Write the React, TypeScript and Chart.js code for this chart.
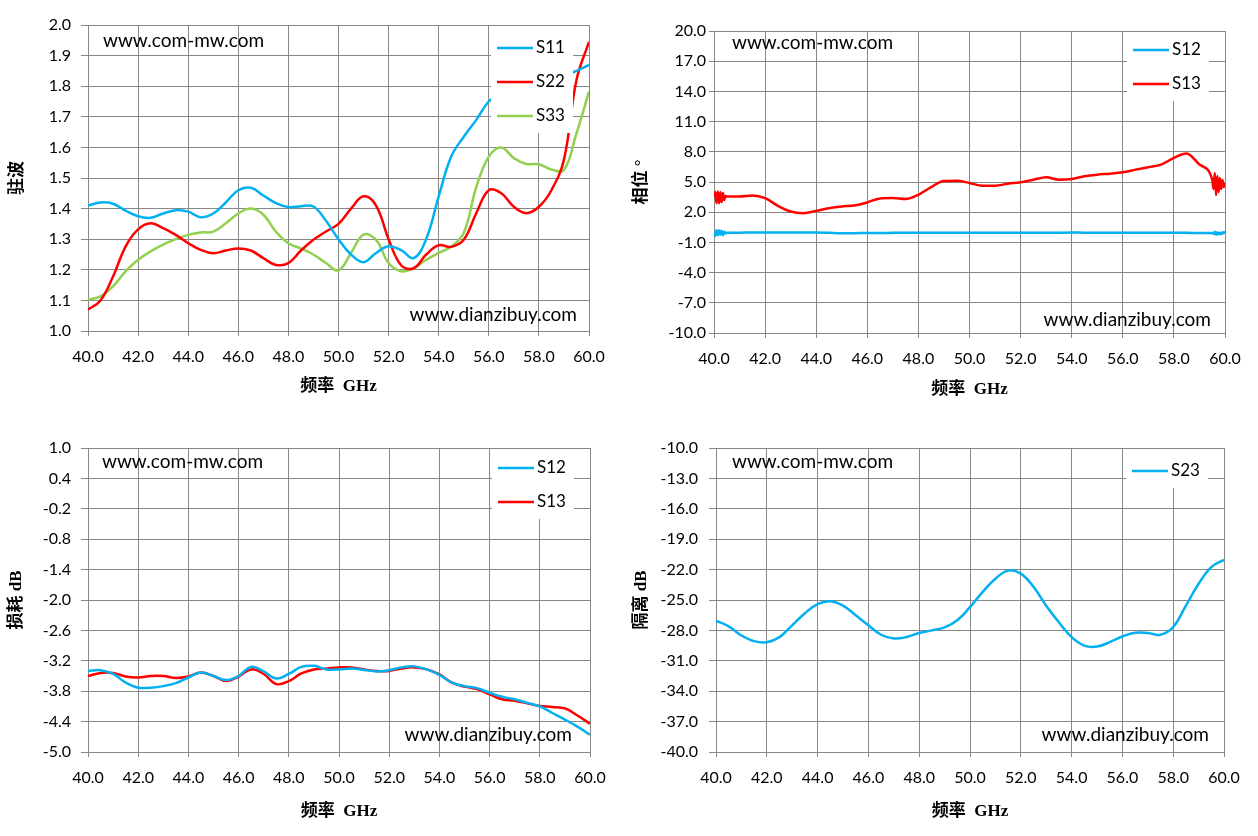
import { useEffect, useRef } from 'react';
import { Chart, registerables } from 'chart.js';
Chart.register(...registerables);

// ---- data ----
const freq = [
  40.0, 40.5, 41.0, 41.5, 42.0, 42.5, 43.0, 43.5, 44.0, 44.5,
  45.0, 45.5, 46.0, 46.5, 47.0, 47.5, 48.0, 48.5, 49.0, 49.5,
  50.0, 50.5, 51.0, 51.5, 52.0, 52.5, 53.0, 53.5, 54.0, 54.5,
  55.0, 55.5, 56.0, 56.5, 57.0, 57.5, 58.0, 58.5, 59.0, 59.5, 60.0,
];

// VSWR
const vswrS11 = [
  1.41, 1.42, 1.416, 1.393, 1.375, 1.37, 1.384, 1.395, 1.39, 1.372,
  1.384, 1.42, 1.46, 1.468, 1.443, 1.418, 1.405, 1.408, 1.407, 1.36,
  1.30, 1.25, 1.225, 1.255, 1.277, 1.264, 1.238, 1.30, 1.44, 1.57,
  1.635, 1.69, 1.75, 1.775, 1.795, 1.81, 1.82, 1.83, 1.835, 1.85, 1.87,
];
const vswrS22 = [
  1.07, 1.10, 1.178, 1.276, 1.332, 1.352, 1.336, 1.314, 1.287, 1.265,
  1.254, 1.263, 1.27, 1.263, 1.238, 1.216, 1.222, 1.263, 1.298, 1.325,
  1.35, 1.40, 1.44, 1.41, 1.30, 1.215, 1.205, 1.25, 1.28, 1.275,
  1.298, 1.385, 1.46, 1.45, 1.406, 1.385, 1.406, 1.46, 1.56, 1.82, 1.945,
];
const vswrS33 = [
  1.102, 1.113, 1.146, 1.195, 1.233, 1.26, 1.282, 1.30, 1.314, 1.322,
  1.325, 1.352, 1.384, 1.40, 1.38, 1.325, 1.287, 1.27, 1.25, 1.222,
  1.198, 1.255, 1.315, 1.298, 1.222, 1.195, 1.205, 1.233, 1.255, 1.276,
  1.32, 1.47, 1.57, 1.60, 1.565, 1.546, 1.545, 1.528, 1.526, 1.646, 1.782,
];

// phase (denser sampling at the noisy band edges)
const phaseFreq = [
  40.0, 40.05, 40.1, 40.15, 40.2, 40.25, 40.3, 40.35, 40.4, 40.45,
  40.5, 41.0, 41.5, 42.0, 42.5, 43.0, 43.5, 44.0, 44.5, 45.0,
  45.5, 46.0, 46.5, 47.0, 47.5, 48.0, 48.5, 49.0, 49.5, 50.0,
  50.5, 51.0, 51.5, 52.0, 52.5, 53.0, 53.5, 54.0, 54.5, 55.0,
  55.5, 56.0, 56.5, 57.0, 57.5, 58.0, 58.5, 59.0, 59.5,
  59.55, 59.6, 59.65, 59.7, 59.75, 59.8, 59.85, 59.9, 59.95, 60.0,
];
const phaseS12 = [
  0.0, -0.35, 0.2, -0.3, 0.2, -0.25, 0.15, -0.3, 0.05, -0.1,
  -0.05, -0.03, -0.02, -0.02, -0.02, -0.01, -0.01, -0.02, -0.05, -0.08,
  -0.08, -0.06, -0.07, -0.04, -0.03, -0.03, -0.04, -0.04, -0.03, -0.03,
  -0.03, -0.04, -0.04, -0.04, -0.05, -0.05, -0.04, -0.02, -0.03, -0.03,
  -0.03, -0.03, -0.04, -0.05, -0.05, -0.05, -0.05, -0.06, -0.06,
  -0.15, 0.05, -0.25, 0.0, -0.2, -0.05, -0.2, 0.0, -0.1, 0.1,
];
const phaseS13 = [
  3.5, 4.0, 2.9, 4.05, 2.9, 4.0, 3.0, 3.9, 3.2, 3.6,
  3.57, 3.57, 3.67, 3.4, 2.63, 2.07, 1.9, 2.13, 2.4, 2.57,
  2.67, 2.97, 3.37, 3.4, 3.3, 3.73, 4.5, 5.1, 5.13, 4.9,
  4.63, 4.63, 4.83, 4.97, 5.23, 5.47, 5.23, 5.3, 5.57, 5.73,
  5.83, 5.97, 6.23, 6.47, 6.73, 7.4, 7.83, 6.73, 5.23,
  4.3, 5.9, 3.7, 5.6, 4.0, 5.4, 4.3, 5.2, 4.5, 4.9,
];

// insertion loss (dB)
const lossS12 = [
  -3.40, -3.385, -3.46, -3.63, -3.73, -3.73, -3.70, -3.64, -3.53, -3.43,
  -3.50, -3.58, -3.50, -3.32, -3.41, -3.55, -3.46, -3.32, -3.30, -3.37,
  -3.37, -3.35, -3.38, -3.41, -3.385, -3.33, -3.31, -3.37, -3.48, -3.63,
  -3.70, -3.74, -3.83, -3.91, -3.96, -4.03, -4.10, -4.23, -4.36, -4.50, -4.66,
];
const lossS13 = [
  -3.50, -3.44, -3.44, -3.51, -3.53, -3.50, -3.50, -3.54, -3.51, -3.43,
  -3.50, -3.60, -3.51, -3.37, -3.46, -3.66, -3.60, -3.45, -3.37, -3.35,
  -3.33, -3.33, -3.37, -3.40, -3.40, -3.35, -3.33, -3.37, -3.47, -3.63,
  -3.71, -3.76, -3.86, -3.96, -3.99, -4.04, -4.09, -4.11, -4.14, -4.28, -4.44,
];

// isolation (dB)
const isoS23 = [
  -27.05, -27.6, -28.5, -29.06, -29.16, -28.66, -27.5, -26.3, -25.4, -25.13,
  -25.56, -26.5, -27.5, -28.43, -28.8, -28.66, -28.25, -28.0, -27.7, -27.0,
  -25.7, -24.2, -22.9, -22.1, -22.4, -23.7, -25.56, -27.2, -28.66, -29.5,
  -29.6, -29.16, -28.6, -28.23, -28.25, -28.43, -27.66, -25.56, -23.4, -21.75, -21.03,
];

// ---- styling ----
const BLUE = '#00B0F0';
const RED = '#FF0000';
const GREEN = '#92D050';
const GRID = '#878787';
const W = 629;
const H = 418;
const SANS = 'Lato';
const TITLE_FONT = "'Liberation Serif', 'Noto Sans CJK SC'";
const MARK_TOP = 'www.com-mw.com';
const MARK_BOTTOM = 'www.dianzibuy.com';

const overlay = {
  id: 'overlay',
  afterDatasetsDraw(chart: any, _a: any, o: any) {
    const { ctx, chartArea: a } = chart;
    ctx.save();
    ctx.fillStyle = '#000';
    ctx.font = `19px ${SANS}`;
    ctx.textBaseline = 'middle';
    ctx.textAlign = 'left';
    ctx.fillText(MARK_TOP, a.left + o.top[0], a.top + o.top[1]);
    ctx.textAlign = 'right';
    ctx.fillText(MARK_BOTTOM, a.right - o.bot[0], a.bottom - o.bot[1]);

    // legend box on top of the lines
    const ds = chart.data.datasets;
    const right = a.right - 16;
    const left = right - 82;
    const row0 = a.top + o.legendTop;
    const bottom = row0 + (ds.length - 1) * 34 + 17;
    ctx.fillStyle = '#fff';
    ctx.fillRect(left, a.top + 1, right - left, bottom - a.top - 1);
    ds.forEach((d: any, i: number) => {
      const y = row0 + i * 34;
      ctx.strokeStyle = d.borderColor;
      ctx.lineWidth = 2.5;
      ctx.beginPath();
      ctx.moveTo(left + 6, y);
      ctx.lineTo(left + 42, y);
      ctx.stroke();
      ctx.fillStyle = '#000';
      ctx.textAlign = 'left';
      ctx.font = `17px ${SANS}`;
      ctx.fillText(d.label, left + 45, y);
    });
    ctx.restore();
  },
};

type Series = { label: string; color: string; xs: number[]; ys: number[] };
type PanelProps = {
  left: number; top: number;
  box: { l: number; t: number; r: number; b: number };
  yMin: number; yMax: number; yStep: number;
  yTitle: string; yTitleX: number; yTick: number; yPad: number;
  xTitleY: number;
  legendTop: number;
  markTop: [number, number]; markBot: [number, number];
  noisy?: boolean;
  series: Series[];
};

function Panel(p: PanelProps) {
  const ref = useRef<HTMLCanvasElement>(null);

  useEffect(() => {
    const tickFont = { family: SANS, size: 16 };
    const titleFont = { family: TITLE_FONT, size: 17, weight: 'bold' as const, lineHeight: 1.2 };
    const chart = new Chart(ref.current!, {
      type: 'line',
      data: {
        datasets: p.series.map(s => ({
          label: s.label,
          data: s.xs.map((x, i) => ({ x, y: s.ys[i] })),
          borderColor: s.color,
          backgroundColor: s.color,
          borderWidth: 2.5,
          pointRadius: 0,
          fill: false,
          tension: 0.4,
          cubicInterpolationMode: p.noisy ? 'monotone' : 'default',
        })),
      },
      plugins: [overlay],
      options: {
        animation: false,
        responsive: true,
        maintainAspectRatio: false,
        layout: { padding: { left: 0, top: p.box.t, right: W - p.box.r, bottom: 0 } },
        plugins: {
          legend: { display: false },
          tooltip: { enabled: false },
          overlay: { top: p.markTop, bot: p.markBot, legendTop: p.legendTop },
        } as any,
        scales: {
          x: {
            type: 'linear',
            min: 40,
            max: 60,
            afterFit: (s: any) => { s.height = H - p.box.b; },
            ticks: {
              stepSize: 2,
              autoSkip: false,
              maxRotation: 0,
              padding: 11,
              color: '#000',
              font: tickFont,
              callback: (v: any) => Number(v).toFixed(1),
            },
            grid: { color: GRID, lineWidth: 1, tickLength: 5, drawTicks: true },
            border: { color: GRID, width: 1 },
            title: {
              display: true,
              text: '频率  GHz',
              color: '#000',
              font: titleFont,
              padding: { top: 0, bottom: H - p.xTitleY - 10.2 },
            },
          },
          y: {
            type: 'linear',
            min: p.yMin,
            max: p.yMax,
            afterFit: (s: any) => { s.width = p.box.l; },
            ticks: {
              stepSize: p.yStep,
              autoSkip: false,
              padding: p.yPad,
              color: '#000',
              font: tickFont,
              callback: (v: any) => Number(v).toFixed(1),
            },
            grid: { color: GRID, lineWidth: 1, tickLength: p.yTick, drawTicks: true },
            border: { color: GRID, width: 1 },
            title: {
              display: true,
              text: p.yTitle,
              color: '#000',
              font: titleFont,
              padding: { top: p.yTitleX - 10.2, bottom: 0 },
            },
          },
        },
      } as any,
    });
    return () => chart.destroy();
  }, []);

  return (
    <div style={{ position: 'absolute', left: p.left, top: p.top, width: W, height: H }}>
      <canvas ref={ref} />
    </div>
  );
}

export default function App() {
  return (
    <div style={{ position: 'fixed', left: 0, top: 0, width: 1258, height: 836, background: '#fff' }}>
      <Panel
        left={0} top={0}
        box={{ l: 88, t: 25, r: 589, b: 331 }}
        yMin={1.0} yMax={2.0} yStep={0.1}
        yTitle="驻波" yTitleX={18} yTick={7} yPad={10}
        xTitleY={387} legendTop={23}
        markTop={[15, 16]} markBot={[12, 16]}
        series={[
          { label: 'S11', color: BLUE, xs: freq, ys: vswrS11 },
          { label: 'S22', color: RED, xs: freq, ys: vswrS22 },
          { label: 'S33', color: GREEN, xs: freq, ys: vswrS33 },
        ]}
      />
      <Panel
        left={629} top={0}
        box={{ l: 85, t: 31, r: 596, b: 333 }}
        yMin={-10} yMax={20} yStep={3}
        yTitle="相位 °" yTitleX={13} yTick={5} yPad={3}
        xTitleY={390} legendTop={19}
        markTop={[18, 12]} markBot={[14, 13]}
        noisy
        series={[
          { label: 'S12', color: BLUE, xs: phaseFreq, ys: phaseS12 },
          { label: 'S13', color: RED, xs: phaseFreq, ys: phaseS13 },
        ]}
      />
      <Panel
        left={0} top={418}
        box={{ l: 88, t: 30, r: 590, b: 334 }}
        yMin={-5.0} yMax={1.0} yStep={0.6}
        yTitle="损耗 dB" yTitleX={17} yTick={7} yPad={10}
        xTitleY={394} legendTop={20}
        markTop={[14, 14]} markBot={[18, 17]}
        series={[
          { label: 'S12', color: BLUE, xs: freq, ys: lossS12 },
          { label: 'S13', color: RED, xs: freq, ys: lossS13 },
        ]}
      />
      <Panel
        left={629} top={418}
        box={{ l: 87, t: 30, r: 595, b: 334 }}
        yMin={-40} yMax={-10} yStep={3}
        yTitle="隔离 dB" yTitleX={13} yTick={7} yPad={11}
        xTitleY={394} legendTop={23}
        markTop={[16, 14]} markBot={[15, 17]}
        series={[
          { label: 'S23', color: BLUE, xs: freq, ys: isoS23 },
        ]}
      />
    </div>
  );
}
